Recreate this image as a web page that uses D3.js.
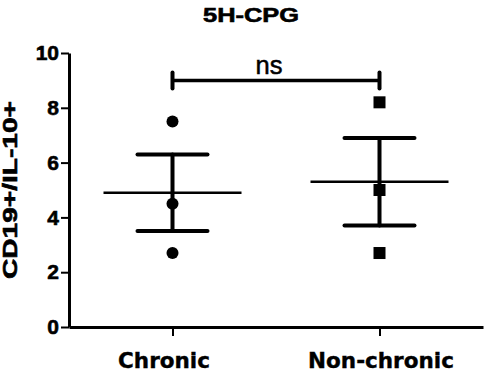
<!DOCTYPE html>
<html lang="en">
  <head>
    <meta charset="UTF-8" />
    <title>5H-CPG</title>
    <script src="https://cdn.jsdelivr.net/npm/d3@7/dist/d3.min.js"></script>
    <style>
      body {
        margin: 0;
        background: #fff;
      }
      svg {
        display: block;
      }
    </style>
  </head>
  <body>
    <div id="wrapper"></div>
    <script>
      const categories = ["Chronic", "Non-chronic"];
      const chronicValues = [7.5, 4.5, 2.7];
      const nonChronicValues = [8.2, 5.0, 2.7];
      const yTicks = [0, 2, 4, 6, 8, 10];
      const title = "5H-CPG";
      const yLabel = "CD19+/IL-10+";
      const sigLabel = "ns";
      const sigLevel = 9.0;

      const groups = [
        { name: categories[0], values: chronicValues, shape: "circle" },
        { name: categories[1], values: nonChronicValues, shape: "square" },
      ];

      let dimensions = {
        width: 484,
        height: 374,
        margin: { top: 53, right: 1, bottom: 47, left: 69 },
      };
      dimensions.boundedWidth =
        dimensions.width - dimensions.margin.left - dimensions.margin.right;
      dimensions.boundedHeight =
        dimensions.height - dimensions.margin.top - dimensions.margin.bottom;

      const svg = d3
        .select("#wrapper")
        .append("svg")
        .attr("width", dimensions.width)
        .attr("height", dimensions.height);

      const bounds = svg
        .append("g")
        .attr(
          "transform",
          `translate(${dimensions.margin.left},${dimensions.margin.top})`
        );

      const xScale = d3
        .scalePoint()
        .domain(categories)
        .range([0, dimensions.boundedWidth])
        .padding(0.5);

      const yScale = d3
        .scaleLinear()
        .domain([0, 10])
        .range([dimensions.boundedHeight, 0]);

      // heavy black text like the original
      const heavy = (sel, w) =>
        sel.attr("fill", "#000").attr("stroke", "#000").attr("stroke-width", w);

      // axes
      const yAxis = bounds
        .append("g")
        .call(
          d3
            .axisLeft(yScale)
            .tickValues(yTicks)
            .tickSize(8)
            .tickSizeOuter(0)
            .tickPadding(2)
        );
      yAxis.select(".domain").attr("stroke-width", 3);
      yAxis.selectAll(".tick line").attr("stroke-width", 2);
      yAxis
        .selectAll(".tick text")
        .attr("font-family", "'Liberation Sans', Arial, sans-serif")
        .attr("font-weight", "bold")
        .attr("font-size", 21)
        .call(heavy, 0.6);

      const xAxis = bounds
        .append("g")
        .attr("transform", `translate(0,${dimensions.boundedHeight})`)
        .call(d3.axisBottom(xScale).tickSize(9).tickSizeOuter(0).tickPadding(17));
      xAxis.select(".domain").attr("stroke-width", 3);
      xAxis.selectAll(".tick line").attr("stroke-width", 2);
      xAxis
        .selectAll(".tick text")
        .attr("font-family", "'DejaVu Sans', sans-serif")
        .attr("font-weight", "bold")
        .attr("font-size", 21.5)
        .attr("dx", (d, i) => (i === 0 ? -9 : 1))
        .call(heavy, 0.4);

      // points
      groups.forEach((g) => {
        const cx = xScale(g.name);
        const pts = bounds.append("g");
        if (g.shape === "circle") {
          pts
            .selectAll("circle")
            .data(g.values)
            .join("circle")
            .attr("cx", cx)
            .attr("cy", (d) => yScale(d))
            .attr("r", 6)
            .attr("fill", "#000");
        } else {
          pts
            .selectAll("rect")
            .data(g.values)
            .join("rect")
            .attr("x", cx - 6)
            .attr("y", (d) => yScale(d) - 6)
            .attr("width", 12)
            .attr("height", 12)
            .attr("fill", "#000");
        }

        // mean +/- SEM
        const mean = d3.mean(g.values);
        const sem = d3.deviation(g.values) / Math.sqrt(g.values.length);
        const eb = bounds
          .append("g")
          .attr("stroke", "#000")
          .attr("stroke-linecap", "round");
        eb.append("line")
          .attr("x1", cx - 69)
          .attr("x2", cx + 69)
          .attr("y1", yScale(mean))
          .attr("y2", yScale(mean))
          .attr("stroke-width", 2.5)
          .attr("stroke-linecap", "butt");
        eb.append("line")
          .attr("x1", cx)
          .attr("x2", cx)
          .attr("y1", yScale(mean + sem))
          .attr("y2", yScale(mean - sem))
          .attr("stroke-width", 4);
        [mean + sem, mean - sem].forEach((v) => {
          eb.append("line")
            .attr("x1", cx - 35)
            .attr("x2", cx + 35)
            .attr("y1", yScale(v))
            .attr("y2", yScale(v))
            .attr("stroke-width", 4);
        });
      });

      // significance bracket
      const x0 = xScale(categories[0]);
      const x1 = xScale(categories[1]);
      const sig = bounds
        .append("g")
        .attr("stroke", "#000")
        .attr("stroke-linecap", "round");
      sig
        .append("line")
        .attr("x1", x0)
        .attr("x2", x1)
        .attr("y1", yScale(sigLevel))
        .attr("y2", yScale(sigLevel))
        .attr("stroke-width", 3.5)
        .attr("stroke-linecap", "butt");
      [x0, x1].forEach((x) => {
        sig
          .append("line")
          .attr("x1", x)
          .attr("x2", x)
          .attr("y1", yScale(sigLevel) - 8)
          .attr("y2", yScale(sigLevel) + 8)
          .attr("stroke-width", 4);
      });
      bounds
        .append("text")
        .attr("x", (x0 + x1) / 2 - 7)
        .attr("y", yScale(sigLevel) - 6)
        .attr("text-anchor", "middle")
        .attr("font-family", "'Liberation Sans', Arial, sans-serif")
        .attr("font-size", 26)
        .attr("textLength", 27)
        .attr("lengthAdjust", "spacingAndGlyphs")
        .call(heavy, 0.5)
        .text(sigLabel);

      // title
      svg
        .append("text")
        .attr("x", 251)
        .attr("y", 22)
        .attr("text-anchor", "middle")
        .attr("font-family", "'Liberation Sans', Arial, sans-serif")
        .attr("font-weight", "bold")
        .attr("font-size", 20)
        .attr("textLength", 96)
        .attr("lengthAdjust", "spacingAndGlyphs")
        .call(heavy, 0.6)
        .text(title);

      // y label
      svg
        .append("text")
        .attr(
          "transform",
          `translate(17,${dimensions.margin.top + yScale(5)}) rotate(-90)`
        )
        .attr("text-anchor", "middle")
        .attr("font-family", "'Liberation Sans', Arial, sans-serif")
        .attr("font-weight", "bold")
        .attr("font-size", 20)
        .attr("textLength", 178)
        .attr("lengthAdjust", "spacingAndGlyphs")
        .call(heavy, 0.6)
        .text(yLabel);
    </script>
  </body>
</html>
